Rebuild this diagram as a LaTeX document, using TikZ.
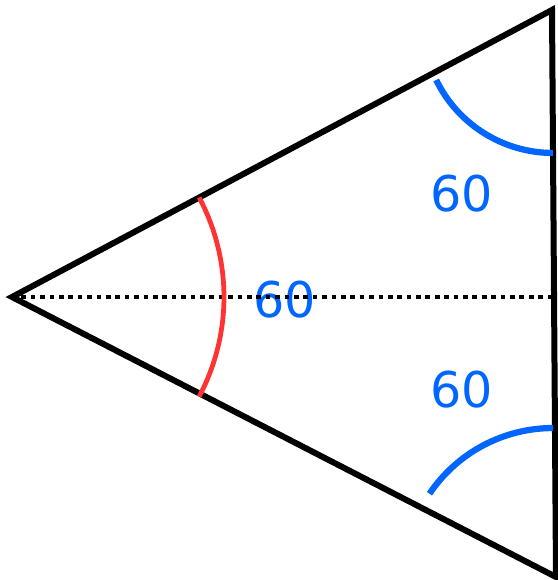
\documentclass[tikz,border=0pt]{standalone}
\usepackage{fontspec}
\newfontfamily\anglefont{DejaVu Sans}
\definecolor{angleblue}{RGB}{0,102,255}
\definecolor{anglered}{RGB}{255,51,51}
\begin{document}
\begin{tikzpicture}[
    x=0.02cm, y=0.02cm,
    edgeline/.style={draw=black, line width=0.12cm},
    midline/.style={draw=black, line width=0.09cm, dash pattern=on 0.094cm off 0.094cm},
    bluearc/.style={draw=angleblue, line width=0.125cm},
    redarc/.style={draw=anglered, line width=0.095cm},
    anglelabel/.style={text=angleblue, font=\anglefont\fontsize{28}{32}\selectfont, inner sep=0pt},
]
\useasboundingbox (0,0) rectangle (557,580);
\coordinate (a) at (12,283);
\coordinate (b) at (552,570);
\coordinate (c) at (556,3);
\coordinate (m) at (552,283);
\coordinate (bc) at (553,557);
\coordinate (cc) at (553,3);

\node[anglelabel] (ltop) at (462,386) {60};
\node[anglelabel] (lmid) at (285,280) {60};
\node[anglelabel] (lbot) at (462,190) {60};

\draw[midline] (a) -- (m);
\draw[edgeline] (a) -- (b) -- (c) -- cycle;

% angle marks
\draw[redarc] (a) ++(-28:4.24cm) arc[start angle=-28, end angle=28, radius=4.24cm];
\draw[bluearc] (bc) ++(206:2.6cm) arc[start angle=206, end angle=270, radius=2.6cm];
\draw[bluearc] (cc) ++(146:2.98cm) arc[start angle=146, end angle=90, radius=2.98cm];
\end{tikzpicture}
\end{document}
